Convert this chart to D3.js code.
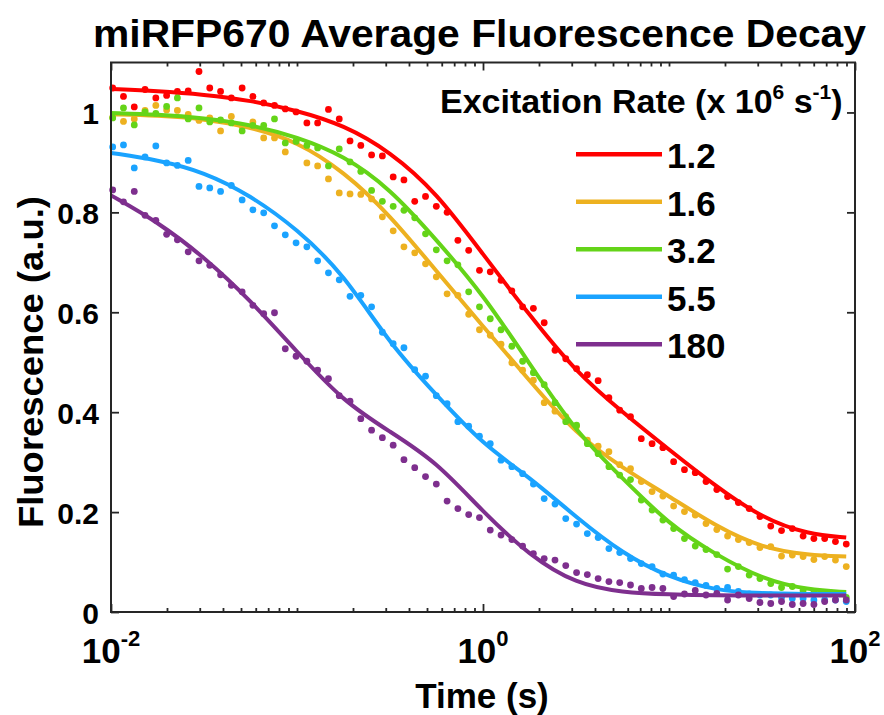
<!DOCTYPE html>
<html>
<head>
<meta charset="utf-8">
<script src="https://cdn.jsdelivr.net/npm/d3@7"></script>
<style>
  body { margin: 0; background: #fff; }
  svg text { font-family: "Liberation Sans", Arial, Helvetica, sans-serif; font-weight: bold; fill: #000; }
</style>
</head>
<body>
<svg id="chart" width="884" height="715"></svg>
<script>
// time points of the measured traces (s)
var times = [0.01021,0.01167,0.01334,0.01524,0.01742,0.01991,0.02275,0.02600,0.02972,0.03396,
  0.03882,0.04436,0.05070,0.05794,0.06622,0.07568,0.08650,0.09886,0.1130,0.1291,
  0.1476,0.1687,0.1928,0.2203,0.2518,0.2877,0.3289,0.3758,0.4295,0.4909,
  0.5610,0.6412,0.7328,0.8375,0.9572,1.094,1.250,1.429,1.633,1.866,
  2.133,2.438,2.786,3.184,3.639,4.159,4.753,5.433,6.209,7.096,
  8.110,9.268,10.59,12.11,13.84,15.81,18.07,20.65,23.60,26.98,
  30.83,35.24,40.27,46.03,52.60,60.12,68.71,78.52,89.74];

// time points where the fitted curves were read
var fitTimes = [0.01,0.0178,0.0316,0.0562,0.1,0.178,0.316,0.562,1,1.78,3.16,5.62,10,17.8,31.6,56.2,89.7];

var rates = ["1.2", "1.6", "3.2", "5.5", "180"];
var colors = ["#ff0000", "#edb120", "#64d418", "#1aa3ff", "#7e2f8e"];

var red = [1.049,1.032,1.011,1.046,1.029,1.034,1.042,1.043,1.082,1.049,
  1.042,1.029,1.049,1.032,1.019,1.014,1.007,1.001,0.979,0.979,
  1.006,0.987,0.943,0.934,0.915,0.913,0.871,0.865,0.822,0.832,
  0.812,0.800,0.744,0.724,0.684,0.681,0.664,0.643,0.611,0.608,
  0.579,0.524,0.507,0.487,0.475,0.463,0.429,0.404,0.391,0.347,
  0.337,0.329,0.301,0.285,0.279,0.261,0.245,0.231,0.219,0.207,
  0.191,0.172,0.163,0.167,0.152,0.147,0.147,0.141,0.136];
var orange = [0.990,0.982,0.987,1.004,1.014,1.005,1.004,0.996,0.984,0.989,
  0.963,0.992,0.972,0.981,0.949,0.949,0.921,0.942,0.899,0.893,
  0.867,0.839,0.837,0.836,0.827,0.791,0.763,0.731,0.719,0.697,
  0.671,0.637,0.634,0.596,0.565,0.554,0.536,0.499,0.484,0.464,
  0.419,0.402,0.391,0.372,0.344,0.332,0.321,0.295,0.287,0.261,
  0.241,0.232,0.212,0.201,0.194,0.177,0.165,0.152,0.145,0.139,
  0.129,0.131,0.112,0.114,0.111,0.105,0.111,0.104,0.091];
var green = [0.989,1.009,0.975,1.001,0.998,1.012,1.029,0.987,1.009,0.981,
  0.985,0.979,0.963,0.974,0.974,0.987,0.939,0.942,0.934,0.929,
  0.893,0.927,0.901,0.882,0.844,0.822,0.812,0.804,0.789,0.757,
  0.725,0.703,0.695,0.641,0.611,0.587,0.565,0.532,0.502,0.479,
  0.455,0.419,0.381,0.374,0.337,0.317,0.291,0.274,0.265,0.224,
  0.204,0.184,0.167,0.147,0.132,0.125,0.115,0.086,0.091,0.074,
  0.067,0.057,0.049,0.051,0.043,0.039,0.039,0.037,0.029];
var blue = [0.931,0.935,0.889,0.911,0.933,0.899,0.894,0.904,0.852,0.849,
  0.842,0.854,0.825,0.805,0.799,0.773,0.755,0.739,0.731,0.703,
  0.679,0.665,0.632,0.634,0.611,0.560,0.537,0.529,0.485,0.472,
  0.433,0.417,0.381,0.372,0.352,0.337,0.304,0.291,0.277,0.256,
  0.227,0.216,0.187,0.176,0.157,0.149,0.127,0.119,0.107,0.097,
  0.091,0.076,0.074,0.065,0.059,0.053,0.047,0.049,0.041,0.036,
  0.034,0.034,0.029,0.027,0.027,0.024,0.024,0.024,0.021];
var purple = [0.845,0.821,0.842,0.794,0.784,0.756,0.745,0.721,0.703,0.694,
  0.675,0.654,0.641,0.614,0.597,0.599,0.527,0.512,0.502,0.484,
  0.467,0.433,0.422,0.387,0.364,0.349,0.334,0.305,0.289,0.271,
  0.256,0.222,0.207,0.195,0.189,0.164,0.154,0.145,0.132,0.117,
  0.107,0.104,0.093,0.079,0.075,0.067,0.061,0.059,0.054,0.047,
  0.049,0.047,0.031,0.036,0.043,0.034,0.037,0.024,0.034,0.027,
  0.019,0.017,0.021,0.015,0.017,0.015,0.021,0.024,0.024];

// fitted curves
var redFit    = [1.047,1.043,1.036,1.024,1.004,0.975,0.922,0.840,0.716,0.594,0.480,0.400,0.325,0.252,0.188,0.155,0.149];
var orangeFit = [0.996,0.994,0.987,0.971,0.942,0.882,0.795,0.682,0.572,0.463,0.356,0.288,0.232,0.172,0.128,0.114,0.111];
var greenFit  = [0.999,0.996,0.989,0.976,0.951,0.914,0.848,0.745,0.636,0.497,0.360,0.268,0.175,0.115,0.066,0.044,0.040];
var blueFit   = [0.919,0.905,0.881,0.834,0.767,0.677,0.536,0.434,0.335,0.270,0.190,0.117,0.069,0.043,0.037,0.036,0.036];
var purpleFit = [0.834,0.781,0.711,0.624,0.521,0.421,0.361,0.301,0.200,0.113,0.056,0.039,0.035,0.033,0.033,0.033,0.033];

var points = [red, orange, green, blue, purple];
var fits = [redFit, orangeFit, greenFit, blueFit, purpleFit];

var svg = d3.select("#chart");
var plotLeft = 111, plotRight = 855, plotTop = 62.5, plotBottom = 612;

var x = d3.scaleLog().domain([0.01, 100]).range([plotLeft, plotRight]);
var y = d3.scaleLinear().domain([0, 1.1]).range([plotBottom, plotTop]);

var majorX = [0.01, 1, 100];
var minorX = x.ticks().filter(function(d){ return majorX.indexOf(d) < 0; });
var yTicks = [0, 0.2, 0.4, 0.6, 0.8, 1];

// ticks, all pointing inward
function tickAxis(axis, tx, ty) {
  var g = svg.append("g").attr("transform", "translate(" + tx + "," + ty + ")").call(axis);
  g.select(".domain").remove();
  g.selectAll("line").attr("stroke", "#262626").attr("stroke-width", 1.8);
  g.selectAll("text").remove();
}
tickAxis(d3.axisBottom(x).tickValues(minorX).tickSize(-4), 0, plotBottom);
tickAxis(d3.axisBottom(x).tickValues(majorX).tickSize(-8), 0, plotBottom);
tickAxis(d3.axisTop(x).tickValues(minorX).tickSize(-4), 0, plotTop);
tickAxis(d3.axisTop(x).tickValues(majorX).tickSize(-8), 0, plotTop);
tickAxis(d3.axisLeft(y).tickValues(yTicks).tickSize(-8), plotLeft, 0);
tickAxis(d3.axisRight(y).tickValues(yTicks).tickSize(-8), plotRight, 0);

// data
var line = d3.line()
  .x(function(d){ return x(d[0]); })
  .y(function(d){ return y(d[1]); })
  .curve(d3.curveBasis);

points.forEach(function(vals, k) {
  svg.append("path")
    .datum(fitTimes.map(function(t, i){ return [t, fits[k][i]]; }))
    .attr("d", line)
    .attr("fill", "none")
    .attr("stroke", colors[k])
    .attr("stroke-width", 4);
  svg.append("g").selectAll("circle")
    .data(vals)
    .enter().append("circle")
    .attr("cx", function(d, i){ return x(times[i]); })
    .attr("cy", function(d){ return y(d); })
    .attr("r", 3.4)
    .attr("fill", colors[k]);
});

// box
svg.append("rect")
  .attr("x", plotLeft).attr("y", plotTop)
  .attr("width", plotRight - plotLeft).attr("height", plotBottom - plotTop)
  .attr("fill", "none").attr("stroke", "#262626").attr("stroke-width", 2);

// y tick labels
svg.append("g").selectAll("text")
  .data(yTicks).enter().append("text")
  .attr("x", 99)
  .attr("y", function(d){ return y(d) + 11.5; })
  .attr("text-anchor", "end")
  .attr("font-size", 30)
  .text(function(d){ return d; });

// x tick labels 10^n
var xl = svg.append("g").selectAll("text")
  .data(majorX).enter().append("text")
  .attr("x", function(d){ return x(d); })
  .attr("y", 663)
  .attr("text-anchor", "middle")
  .attr("font-size", 35);
xl.append("tspan").text("10");
xl.append("tspan").attr("dy", -17).attr("font-size", 22)
  .text(function(d){ return Math.round(Math.log10(d)); });

// titles
svg.append("text").attr("x", 93).attr("y", 46.5)
  .attr("font-size", 38).attr("textLength", 773).attr("lengthAdjust", "spacingAndGlyphs")
  .text("miRFP670 Average Fluorescence Decay");
svg.append("text").attr("x", 482).attr("y", 708)
  .attr("text-anchor", "middle").attr("font-size", 35)
  .text("Time (s)");
svg.append("text")
  .attr("transform", "translate(43,362) rotate(-90)")
  .attr("text-anchor", "middle").attr("font-size", 35)
  .attr("textLength", 332).attr("lengthAdjust", "spacingAndGlyphs")
  .text("Fluorescence (a.u.)");

// legend
var lt = svg.append("text").attr("x", 440).attr("y", 113.3).attr("font-size", 34);
lt.append("tspan").text("Excitation Rate (x 10");
lt.append("tspan").attr("dy", -14).attr("font-size", 21).text("6");
lt.append("tspan").attr("dy", 14).text(" s");
lt.append("tspan").attr("dy", -14).attr("font-size", 21).text("-1");
lt.append("tspan").attr("dy", 14).text(")");

var leg = svg.append("g").selectAll("g")
  .data(rates).enter().append("g")
  .attr("transform", function(d, i){ return "translate(0," + (154.3 + 47.5 * i) + ")"; });
leg.append("line")
  .attr("x1", 576).attr("x2", 662)
  .attr("stroke", function(d, i){ return colors[i]; })
  .attr("stroke-width", 4.5);
leg.append("text")
  .attr("x", 667).attr("y", 14)
  .attr("font-size", 35)
  .text(function(d){ return d; });
</script>
</body>
</html>
